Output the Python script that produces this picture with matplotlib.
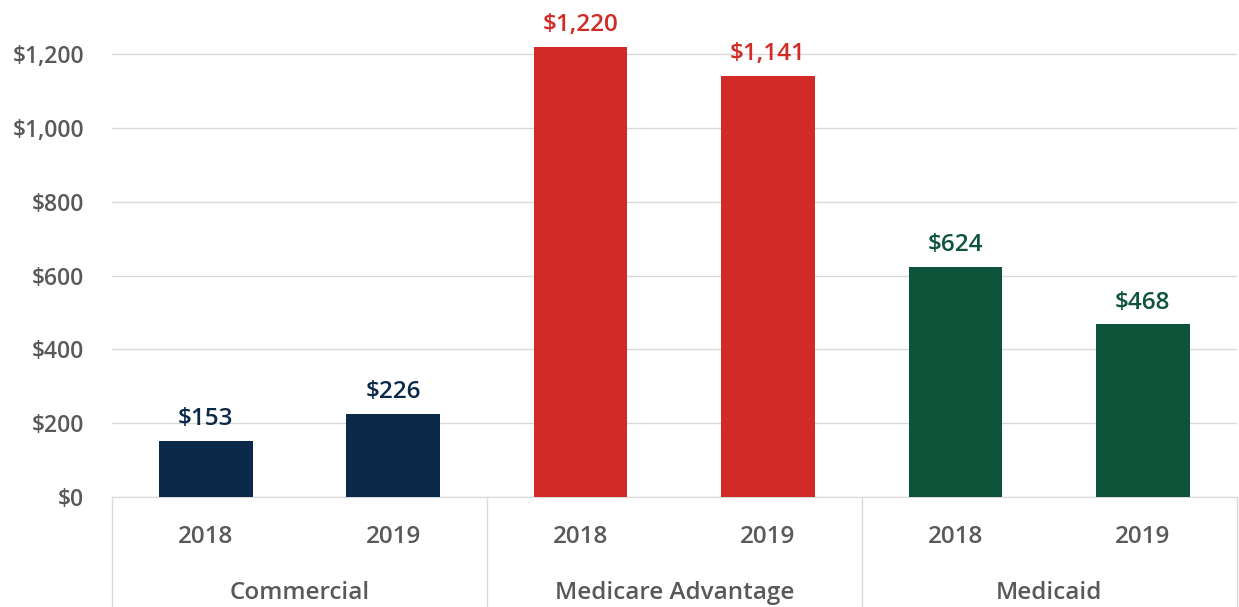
import numpy as np
import matplotlib.pyplot as plt
import matplotlib.transforms as mtransforms

# Datos
grupos = ['Commercial', 'Medicare Advantage', 'Medicaid']
anios = ['2018', '2019']
valores = [153, 226, 1220, 1141, 624, 468]
colores_grupo = ['#0B2A4A', '#D12A27', '#0E543B']

GRIS_TXT = '#595959'
GRIS_LIN = '#D9D9D9'

plt.rcParams['font.family'] = ['Open Sans', 'DejaVu Sans']

fig = plt.figure(figsize=(12.39, 6.07), dpi=100)
ax = fig.add_axes([0.0904, 0.181, 0.9076, 0.791])

x = np.arange(len(valores))
colores = [colores_grupo[i // 2] for i in range(len(valores))]
barras = ax.bar(x, valores, width=0.5, color=colores, zorder=3)

for xi, v, c in zip(x, valores, colores):
    ax.annotate('${:,}'.format(v), (xi, v), xytext=(0, 7), textcoords='offset points',
                ha='center', va='bottom', fontsize=17.5, fontweight='semibold', color=c)

ax.set_xlim(-0.5, len(valores) - 0.5)
ax.set_ylim(0, 1300)
ax.set_yticks(np.arange(0, 1201, 200))
ax.set_yticklabels(['${:,}'.format(t) for t in range(0, 1201, 200)])
ax.yaxis.grid(True, color=GRIS_LIN, linewidth=1, zorder=0)
ax.tick_params(axis='y', length=0, pad=20, labelsize=16.5, labelcolor=GRIS_TXT)
for lbl in ax.get_yticklabels():
    lbl.set_fontweight('semibold')

ax.set_xticks(x)
ax.set_xticklabels(anios * len(grupos))
ax.tick_params(axis='x', length=0, pad=20, labelsize=17.5, labelcolor=GRIS_TXT)
for lbl in ax.get_xticklabels():
    lbl.set_fontweight('semibold')

for s in ['top', 'right', 'left']:
    ax.spines[s].set_visible(False)
ax.spines['bottom'].set_color(GRIS_LIN)

# Separadores de grupo y etiquetas de categoria
trans = mtransforms.blended_transform_factory(ax.transData, ax.transAxes)
for k in range(len(grupos) + 1):
    xs = -0.5 + 2 * k
    ax.plot([xs, xs], [0, -0.235], transform=trans, color=GRIS_LIN, lw=1, clip_on=False)
for k, g in enumerate(grupos):
    ax.text(2 * k + 0.5, -0.2, g, transform=trans, ha='center', va='center',
            fontsize=17.5, fontweight='semibold', color=GRIS_TXT)

fig.savefig('out.png', dpi=100)
